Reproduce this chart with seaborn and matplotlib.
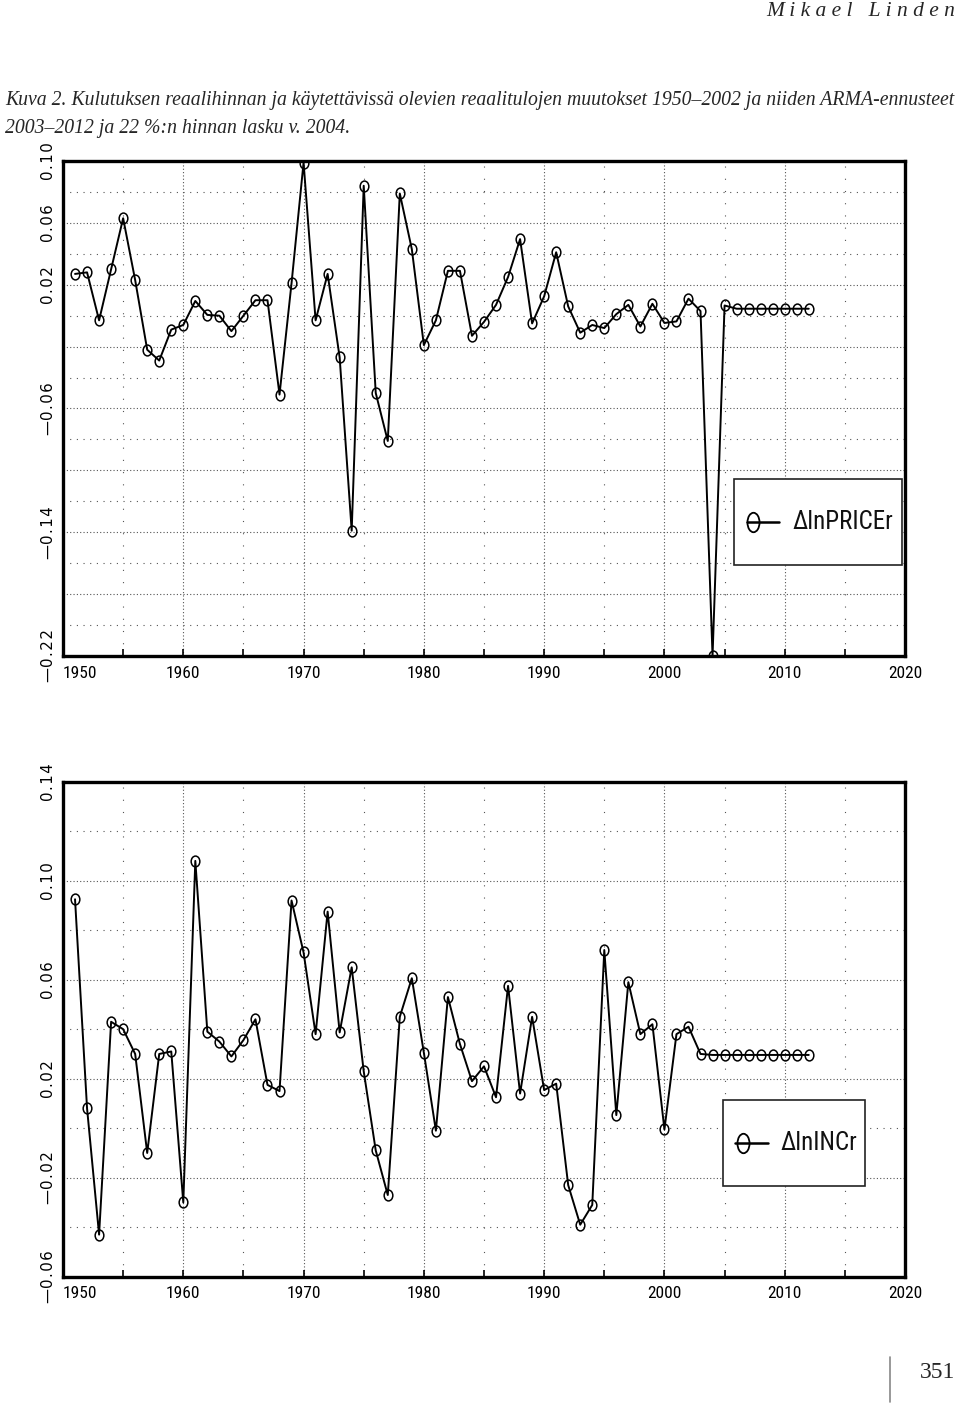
import numpy as np
import pandas as pd
import matplotlib
matplotlib.use("Agg")
import matplotlib.pyplot as plt
import seaborn as sns
from matplotlib.path import Path
from matplotlib.transforms import Affine2D
from matplotlib.patches import Rectangle

# ---------------- data ----------------
years = list(range(1951, 2013))

price_change = [
    0.027, 0.028, -0.003, 0.030, 0.063, 0.023, -0.022, -0.029, -0.009, -0.006,
    0.0095, 0.0005, 0.000, -0.010, 0.000, 0.010, 0.010, -0.051, 0.021, 0.099,
    -0.003, 0.027, -0.027, -0.139, 0.084, -0.050, -0.081, 0.079, 0.043, -0.019,
    -0.003, 0.029, 0.029, -0.013, -0.004, 0.007, 0.025, 0.0495, -0.005, 0.0125,
    0.041, 0.006, -0.011, -0.006, -0.008, 0.001, 0.007, -0.007, 0.0077, -0.0047,
    -0.0037, 0.011, 0.003, -0.220, 0.0066, 0.0045, 0.0045, 0.0045, 0.0045, 0.0045,
    0.0045, 0.0045,
]

income_change = [
    0.0925, 0.008, -0.043, 0.043, 0.040, 0.030, -0.010, 0.030, 0.031, -0.030,
    0.108, 0.039, 0.035, 0.029, 0.0356, 0.044, 0.0175, 0.015, 0.092, 0.071,
    0.038, 0.0875, 0.0387, 0.065, 0.023, -0.009, -0.027, 0.045, 0.0606, 0.0305,
    -0.001, 0.053, 0.034, 0.019, 0.025, 0.0125, 0.0575, 0.014, 0.045, 0.0154,
    0.018, -0.023, -0.039, -0.031, 0.072, 0.0053, 0.059, 0.038, 0.042, -0.0005,
    0.038, 0.041, 0.030, 0.0296, 0.0296, 0.0296, 0.0296, 0.0296, 0.0296, 0.0296,
    0.0296, 0.0296,
]

x_major = [1950, 1960, 1970, 1980, 1990, 2000, 2010, 2020]
x_minor = [1955, 1965, 1975, 1985, 1995, 2005, 2015]

top_major = [0.10, 0.06, 0.02, -0.02, -0.06, -0.10, -0.14, -0.18, -0.22]
top_minor = [0.08, 0.04, 0.00, -0.04, -0.08, -0.12, -0.16, -0.20]
top_labeled = [0.10, 0.06, 0.02, -0.06, -0.14, -0.22]

bot_major = [0.14, 0.10, 0.06, 0.02, -0.02, -0.06]
bot_minor = [0.12, 0.08, 0.04, 0.00, -0.04]
bot_labeled = [0.14, 0.10, 0.06, 0.02, -0.02, -0.06]

label_price = "ΔlnPRICEr"
label_income = "ΔlnINCr"
header = "M i k a e l   L i n d e n"
caption1 = ("Kuva 2. Kulutuksen reaalihinnan ja käytettävissä olevien reaalitulojen "
            "muutokset 1950–2002 ja niiden ARMA-ennusteet")
caption2 = "2003–2012 ja 22 %:n hinnan lasku v. 2004."
page_no = "351"

df_price = pd.DataFrame({"year": years, "value": price_change})
df_income = pd.DataFrame({"year": years, "value": income_change})

# ---------------- style ----------------
sns.set_style("white")
plt.rcParams["font.family"] = ["DejaVu Sans"]

W, H = 960, 1406
fig = plt.figure(figsize=(W / 100, H / 100), dpi=100)

NARROW = ["Roboto Condensed", "Archivo Narrow", "DejaVu Sans"]
SERIF = ["Liberation Serif", "DejaVu Serif"]

ellipse = Affine2D().scale(0.8, 1.0).transform_path(Path.unit_circle())
ellipse_leg = Affine2D().scale(0.62, 1.0).transform_path(Path.unit_circle())


def fmt(v):
    s = f"{abs(v):.2f}"
    s = "\u200a".join(s)
    return ("\u2014" + s) if v < 0 else s


def make_axes(top_px, bottom_px):
    left_px, right_px = 63, 905
    return fig.add_axes([left_px / W, 1 - bottom_px / H,
                         (right_px - left_px) / W, (bottom_px - top_px) / H])


def style_axes(ax, ymin, ymax, majors, minors, labeled):
    ax.set_xlim(1950, 2020)
    ax.set_ylim(ymin, ymax)
    ax.set_xticks(x_major)
    ax.set_xticks(x_minor, minor=True)
    ax.set_xticklabels([str(x) for x in x_major], fontfamily=NARROW, fontsize=12.5)
    ax.set_yticks(majors)
    ax.set_yticks(minors, minor=True)
    labs = []
    for v in majors:
        labs.append(fmt(v) if any(abs(v - l) < 1e-9 for l in labeled) else "")
    ax.set_yticklabels(labs, rotation=90, va="center", ha="right", fontsize=10.8)
    ax.tick_params(axis="x", which="both", direction="in", length=5, width=1.2,
                   bottom=True, top=False, pad=7, colors="black")
    ax.tick_params(axis="y", which="both", length=0, pad=5, left=True, colors="black")
    ax.get_xticklabels()[0].set_horizontalalignment("left")
    ax.xaxis.grid(True, which="major", linestyle=(0, (1, 2)), linewidth=0.8, color="#555555")
    ax.xaxis.grid(True, which="minor", linestyle=(0, (1, 10)), linewidth=0.8, color="#555555")
    ax.yaxis.grid(True, which="major", linestyle=(0, (1, 2)), linewidth=0.8, color="#555555")
    ax.yaxis.grid(True, which="minor", linestyle=(0, (1, 5)), linewidth=0.8, color="#555555")
    for sp in ax.spines.values():
        sp.set_visible(True)
        sp.set_color("black")
        sp.set_linewidth(2.4)
        sp.set_zorder(5)
    ax.set_xlabel("")
    ax.set_ylabel("")


def draw_series(ax, df):
    sns.lineplot(data=df, x="year", y="value", ax=ax, color="black",
                 linewidth=1.4, marker=ellipse, markersize=7.8,
                 markerfacecolor="none", markeredgecolor="black",
                 markeredgewidth=1.1, estimator=None, sort=False, legend=False,
                 zorder=4)


def draw_legend(ax, box, mx, my, lx0, lx1, tx, text):
    x0, y0, x1, y1 = box
    ax.add_patch(Rectangle((x0, y0), x1 - x0, y1 - y0, transform=ax.transAxes,
                           facecolor="white", edgecolor="#222222", linewidth=1.2,
                           zorder=6, clip_on=False))
    ax.plot([lx0, lx1], [my, my], transform=ax.transAxes, color="black",
            linewidth=1.8, zorder=7, clip_on=False)
    ax.plot([mx], [my], transform=ax.transAxes, marker=ellipse_leg, markersize=14,
            markerfacecolor="none", markeredgecolor="black", markeredgewidth=1.3,
            linestyle="none", zorder=7, clip_on=False)
    ax.text(tx, my, text, transform=ax.transAxes, ha="left", va="center",
            fontsize=18, fontfamily=NARROW, color="#111111", zorder=8)


# ---------------- top chart ----------------
ax1 = make_axes(161, 656)
draw_series(ax1, df_price)
style_axes(ax1, -0.22, 0.10, top_major, top_minor, top_labeled)
draw_legend(ax1, (0.797, 0.1838, 0.9964, 0.3576), 0.8195, 0.2707, 0.8124, 0.8504,
            0.8658, label_price)

# ---------------- bottom chart ----------------
ax2 = make_axes(781.7, 1276.7)
draw_series(ax2, df_income)
style_axes(ax2, -0.06, 0.14, bot_major, bot_minor, bot_labeled)
draw_legend(ax2, (0.7835, 0.1838, 0.9529, 0.357), 0.808, 0.2707, 0.798, 0.837,
            0.8515, label_income)

# ---------------- page texts ----------------
fig.text(955 / W, 1 - 12 / H, header, ha="right", va="center", fontsize=15.5,
         fontfamily=SERIF, fontstyle="italic")
c1 = fig.text(5 / W, 1 - 101 / H, caption1, ha="left", va="center", fontsize=14,
              fontfamily=SERIF, fontstyle="italic")
c2 = fig.text(5 / W, 1 - 128 / H, caption2, ha="left", va="center", fontsize=14,
              fontfamily=SERIF, fontstyle="italic")
fig.canvas.draw()
r = fig.canvas.get_renderer()
wpx = c1.get_window_extent(r).width
fs = 14 * 950 / wpx
c1.set_fontsize(fs)
c2.set_fontsize(fs)

fig.text(955 / W, 1 - 1373 / H, page_no, ha="right", va="center", fontsize=17,
         fontfamily=SERIF)
fig.add_artist(matplotlib.lines.Line2D([890 / W, 890 / W], [1 - 1357 / H, 1 - 1402 / H],
                                       color="#888888", linewidth=1.2))

fig.savefig("out.png", dpi=100)
